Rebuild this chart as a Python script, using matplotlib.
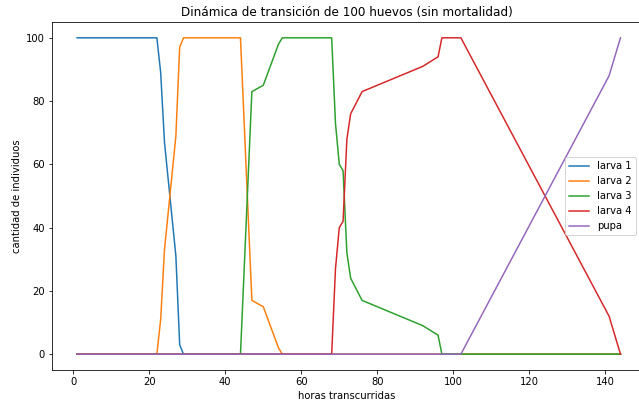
import matplotlib
matplotlib.use("Agg")
import matplotlib.pyplot as plt
import numpy as np

# horas de muestreo y cantidad de individuos por estadio
horas = [1, 22, 23, 24, 27, 28, 29, 44, 47, 50, 54, 55, 68, 69, 70, 71, 72, 73, 76, 92, 96, 97, 102, 141, 144]
larva1 = [100, 100, 89, 67, 31, 3, 0, 0, 0, 0, 0, 0, 0, 0, 0, 0, 0, 0, 0, 0, 0, 0, 0, 0, 0]
larva2 = [0, 0, 11, 33, 69, 97, 100, 100, 17, 15, 2, 0, 0, 0, 0, 0, 0, 0, 0, 0, 0, 0, 0, 0, 0]
larva3 = [0, 0, 0, 0, 0, 0, 0, 0, 83, 85, 98, 100, 100, 73, 60, 58, 32, 24, 17, 9, 6, 0, 0, 0, 0]
larva4 = [0, 0, 0, 0, 0, 0, 0, 0, 0, 0, 0, 0, 0, 27, 40, 42, 68, 76, 83, 91, 94, 100, 100, 12, 0]
pupa = [0, 0, 0, 0, 0, 0, 0, 0, 0, 0, 0, 0, 0, 0, 0, 0, 0, 0, 0, 0, 0, 0, 0, 88, 100]

estadios = {"larva 1": larva1, "larva 2": larva2, "larva 3": larva3,
            "larva 4": larva4, "pupa": pupa}

fig = plt.figure(figsize=(639 / 72, 406 / 72), dpi=72)
ax = fig.add_axes([52 / 639, 36 / 406, 589 / 639, 348 / 406])

for nombre, valores in estadios.items():
    ax.plot(horas, valores, label=nombre)

ax.set_xlim(-5.6, 149.4)
ax.set_ylim(-5, 105)
ax.set_xticks(np.arange(0, 141, 20))
ax.set_yticks(np.arange(0, 101, 20))
ax.set_xlabel("horas transcurridas")
ax.set_ylabel("cantidad de individuos")
ax.set_title("Dinámica de transición de 100 huevos (sin mortalidad)")
ax.legend(loc="center right")

plt.savefig("out.png", dpi=72)
plt.close()
